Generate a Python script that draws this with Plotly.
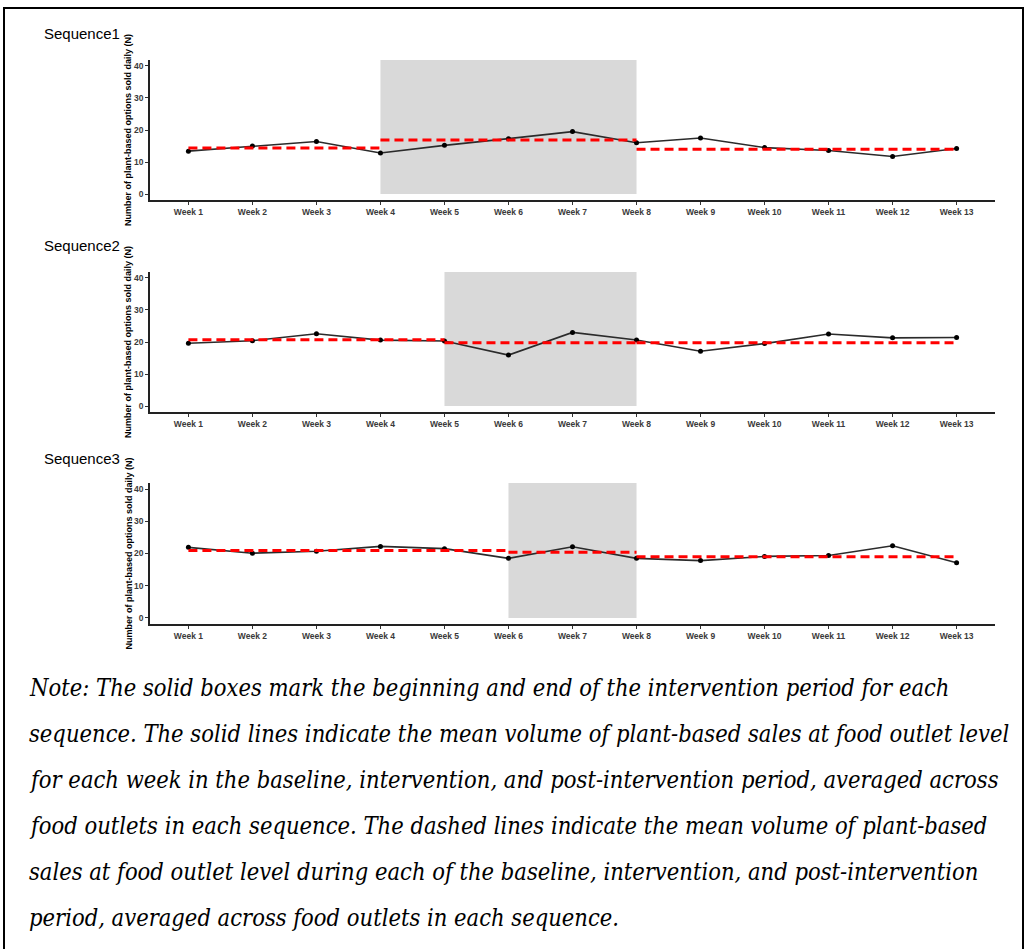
import plotly.graph_objects as go

W, H = 1030, 949

weeks = [f"Week {i}" for i in range(1, 14)]
week_pos = list(range(1, 14))

seq_names = ["Sequence1", "Sequence2", "Sequence3"]
seq1 = [13.4, 15.0, 16.4, 12.8, 15.2, 17.3, 19.5, 16.0, 17.5, 14.5, 13.6, 11.7, 14.2]
seq2 = [19.6, 20.4, 22.6, 20.6, 20.3, 15.9, 23.0, 20.6, 17.1, 19.5, 22.5, 21.3, 21.4]
seq3 = [21.9, 20.1, 20.7, 22.2, 21.5, 18.5, 22.1, 18.5, 17.8, 19.1, 19.4, 22.4, 17.1]
series = [seq1, seq2, seq3]

# period means: baseline, intervention, post-intervention
means1 = [14.4, 16.9, 14.0]
means2 = [20.7, 19.8, 19.8]
means3 = [20.9, 20.4, 19.0]
means = [means1, means2, means3]

interv_start = [4, 5, 6]
interv_end = [8, 8, 8]

y_ticks = [0, 10, 20, 30, 40]
y_title = "Number of plant-based options sold daily (N)"

note_lines = [
    "Note: The solid boxes mark the beginning and end of the intervention period for each",
    "sequence. The solid lines indicate the mean volume of plant-based sales at food outlet level",
    "for each week in the baseline, intervention, and post-intervention period, averaged across",
    "food outlets in each sequence. The dashed lines indicate the mean volume of plant-based",
    "sales at food outlet level during each of the baseline, intervention, and post-intervention",
    "period, averaged across food outlets in each sequence.",
]

# layout in pixels
x_left_px, x_right_px = 150, 995
panels_px = [(59.9, 200.1), (271.9, 412.1), (482.9, 624.1)]
title_y_px = [33, 246, 458]
note_y_px = [688, 734, 780, 826, 872, 918]

def px_x(p):
    return p / W

def px_y(p):
    return 1 - p / H

fig = go.Figure()
layout = dict(
    width=W, height=H,
    margin=dict(l=0, r=0, t=0, b=0),
    paper_bgcolor="white", plot_bgcolor="white",
    showlegend=False,
)
shapes = []
annotations = []

tick_font = dict(family="Liberation Sans, Arial", size=8.5, color="#3a3a3a", weight="bold")

for i in range(3):
    xa = "x" if i == 0 else f"x{i+1}"
    ya = "y" if i == 0 else f"y{i+1}"
    xkey = "xaxis" if i == 0 else f"xaxis{i+1}"
    ykey = "yaxis" if i == 0 else f"yaxis{i+1}"
    top, bot = panels_px[i]
    layout[xkey] = dict(
        domain=[px_x(x_left_px), px_x(x_right_px)], anchor=ya,
        range=[0.4, 13.6], tickvals=week_pos, ticktext=weeks,
        showline=True, linecolor="#222222", linewidth=1.5,
        ticks="outside", ticklen=3, tickcolor="#333333", tickwidth=1,
        showgrid=False, zeroline=False, tickfont=tick_font,
    )
    layout[ykey] = dict(
        domain=[px_y(bot), px_y(top)], anchor=xa,
        range=[-1.9, 41.9], tickvals=y_ticks,
        showline=True, linecolor="#222222", linewidth=1.5,
        ticks="outside", ticklen=3, tickcolor="#333333", tickwidth=1,
        showgrid=False, zeroline=False, tickfont=tick_font,
    )
    # intervention box
    shapes.append(dict(
        type="rect", xref=xa, yref=ya,
        x0=interv_start[i], x1=interv_end[i], y0=0, y1=41.9,
        fillcolor="#D9D9D9", line=dict(width=0), layer="below",
    ))
    # weekly means
    fig.add_trace(go.Scatter(
        x=week_pos, y=series[i], mode="lines+markers", xaxis=xa, yaxis=ya,
        line=dict(color="#2b2b2b", width=1.6),
        marker=dict(color="black", size=5),
    ))
    # period means (dashed)
    seg_x = [[1, interv_start[i]], [interv_start[i], interv_end[i]], [interv_end[i], 13]]
    for sx, m in zip(seg_x, means[i]):
        fig.add_trace(go.Scatter(
            x=sx, y=[m, m], mode="lines", xaxis=xa, yaxis=ya,
            line=dict(color="#FF0000", width=3, dash="9px,5px"),
        ))
    # panel title
    annotations.append(dict(
        text=seq_names[i], xref="paper", yref="paper",
        x=px_x(42), y=px_y(title_y_px[i]), xanchor="left", yanchor="middle",
        showarrow=False, font=dict(family="Liberation Sans, Arial", size=15, color="black"),
    ))
    # y axis title
    annotations.append(dict(
        text=y_title, xref="paper", yref="paper",
        x=px_x(128), y=px_y((top + bot) / 2), xanchor="center", yanchor="middle",
        textangle=-90, showarrow=False,
        font=dict(family="Liberation Sans, Arial", size=9, color="black", weight="bold"),
    ))

for line, yp in zip(note_lines, note_y_px):
    annotations.append(dict(
        text=line, xref="paper", yref="paper",
        x=px_x(27), y=px_y(yp), xanchor="left", yanchor="middle",
        showarrow=False,
        font=dict(family="DejaVu Serif Condensed, Liberation Serif", size=23.5,
                  color="black", style="italic"),
    ))

# outer frame
shapes.append(dict(
    type="rect", xref="paper", yref="paper",
    x0=px_x(4), x1=px_x(1023), y0=-0.01, y1=px_y(8),
    line=dict(color="black", width=2), fillcolor="rgba(0,0,0,0)",
))

layout["shapes"] = shapes
layout["annotations"] = annotations
fig.update_layout(**layout)
fig.write_html(
    "out.html",
    config={"displayModeBar": False},
    post_script="document.body.style.margin='0';document.body.style.overflow='hidden';",
)
